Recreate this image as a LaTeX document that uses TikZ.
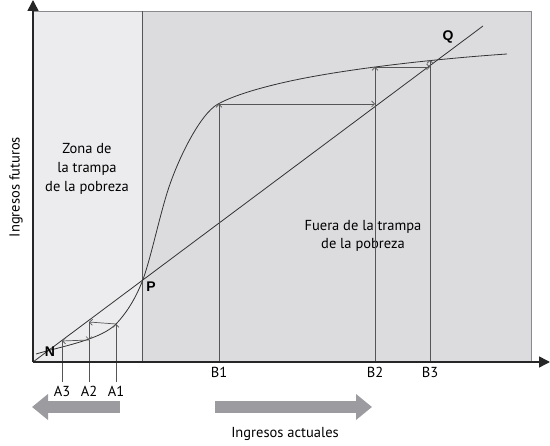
\documentclass[tikz,border=0pt]{standalone}
\usepackage{fontspec}
\setmainfont{PT Sans}
\newfontfamily\markfont{Liberation Sans}
\usetikzlibrary{arrows.meta,positioning,calc}
\definecolor{zonein}{HTML}{ECECEE}
\definecolor{zoneout}{HTML}{DCDCDF}
\definecolor{linec}{HTML}{333333}
\definecolor{stepc}{HTML}{555555}
\definecolor{framec}{HTML}{8A8A8E}
\definecolor{bigarrow}{HTML}{9C9CA0}

\begin{document}
\begin{tikzpicture}[x=1pt,y=-1pt,font=\fontsize{14.5}{19}\selectfont, >={Straight Barb[length=3pt,width=6pt]}]
\tikzset{stepline/.style={draw=stepc, line width=.7pt},
  axisline/.style={draw=black!85, line width=1.5pt, -{Triangle[length=11pt,width=11pt]}},
  curveline/.style={draw=linec, line width=.8pt},
  pointlab/.style={font=\markfont\bfseries\fontsize{14}{14}\selectfont, inner sep=0pt},
  ticklab/.style={inner sep=0pt},
  movearrow/.style={draw=bigarrow, line width=12pt, -{Triangle[length=16pt,width=25pt]}}}
\useasboundingbox (0,0) rectangle (550,446);
\fill[zonein] (33,11) rectangle (142,362);
\fill[zoneout] (142,11) rectangle (531,362);
\draw[framec, line width=.7pt] (33,11) -- (531,11) -- (531,362);
\draw[stepc, line width=.7pt] (142,11) -- (142,362);
\node (zin) [align=center] at (87,169) {Zona de\\la trampa\\de la pobreza};
\node (zout) [align=center, font=\fontsize{14.5}{18}\selectfont] at (363,236) {Fuera de la trampa\\de la pobreza};
% ejes
\coordinate (o) at (33,362);
\coordinate (ytip) at (33,0);
\coordinate (xtip) at (550,362);
\coordinate (dtop) at (483,26);
\coordinate (cs) at (36,354); \coordinate (pp) at (142,282); \coordinate (ce) at (507,54);
\draw[curveline] (o) -- (dtop);
\draw[curveline] (cs) .. controls (63,346) and (102,339.5) .. (117,323)
  .. controls (125,314.2) and (134,302) .. (pp)
  .. controls (150,262) and (159,218) .. (168,190)
  .. controls (178,159) and (200,114) .. (218,104)
  .. controls (238,93) and (275,84) .. (300,79)
  .. controls (360,67) and (447,58) .. (ce);
% trampa
\coordinate (a1b) at (116,382); \coordinate (a1c) at (116,324);
\coordinate (a2b) at (89,382); \coordinate (a2d) at (89,322); \coordinate (a2c) at (89,340);
\coordinate (a3b) at (62,382); \coordinate (a3d) at (62,341);
\draw[stepline,->] (a1b) -- (a1c);
\draw[stepline,->] (a1c) -- (a2d);
\draw[stepline,->] (a2d) -- (a2c);
\draw[stepline] (a2c) -- (a2b);
\draw[stepline,->] (a2c) -- (a3d);
\draw[stepline] (a3d) -- (a3b);
% salida
\coordinate (b1b) at (219,362); \coordinate (b1c) at (219,104);
\coordinate (b2b) at (375,362); \coordinate (b2d) at (375,104); \coordinate (b2c) at (375,67);
\coordinate (b3b) at (430,362); \coordinate (b3d) at (430,67); \coordinate (b3c) at (430,60);
\draw[stepline,->] (b1b) -- (b1c);
\draw[stepline,->] (b1c) -- (b2d);
\draw[stepline,->] (b2b) -- (b2c);
\draw[stepline,->] (b2c) -- (b3d);
\draw[stepline,->] (b3b) -- (b3c);
\draw[axisline] (o) -- (ytip);
\draw[axisline] (o) -- (xtip);
\foreach \xx/\lab/\yy in {62/A3/391,89/A2/391,116/A1/391,219/B1/372,375/B2/372,430/B3/372}{\node[ticklab] (l\lab) at (\xx,\yy) {\lab};}
\node[pointlab] (n) at (50,352) {N};
\node[pointlab] (p) at (151,287) {P};
\node[pointlab] (q) at (448,37) {Q};
% flechas de movimiento
\coordinate (lt) at (120,407); \coordinate (lh) at (32,407);
\coordinate (rt) at (215,407); \coordinate (rh) at (372,407);
\draw[movearrow] (lt) -- (lh);
\draw[movearrow] (rt) -- (rh);
\node (xlab) at (285,434) {Ingresos actuales};
\node (ylab) [rotate=90] at (16,187) {Ingresos futuros};
\end{tikzpicture}
\end{document}
